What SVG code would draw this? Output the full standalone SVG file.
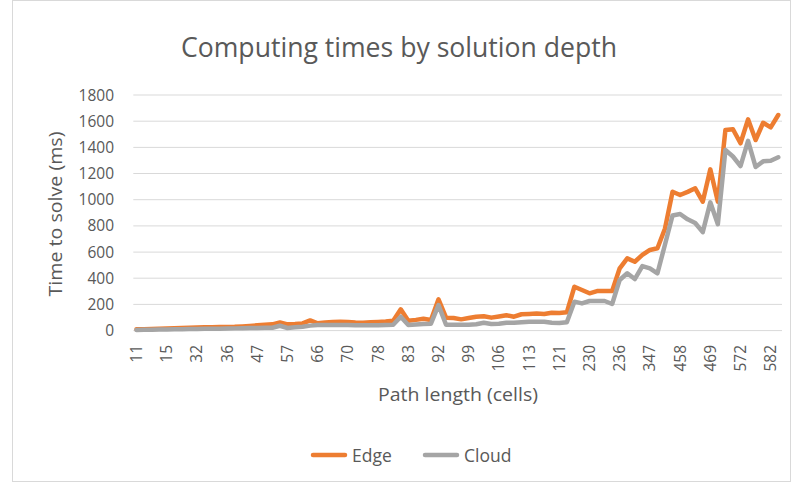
<svg xmlns="http://www.w3.org/2000/svg" width="793" height="483" viewBox="0 0 793 483">
  <style>
    .lbl { font-family: "Open Sans", "Liberation Sans", sans-serif; fill: #595959; }
    .tick { font-size: 15.5px; }
    .axis-title { font-size: 18px; }
    .grid { stroke: #D9D9D9; stroke-width: 1; fill: none; }
    .series { fill: none; stroke-width: 4.5; stroke-linejoin: round; stroke-linecap: round; }
    .edge { stroke: #ED7D31; }
    .cloud { stroke: #A5A5A5; }
  </style>

  <rect x="0" y="0" width="793" height="483" fill="#FFFFFF"/>
  <rect x="12.5" y="0.5" width="778" height="481" fill="none" stroke="#D9D9D9" stroke-width="1"/>

  <!-- title -->
  <text class="lbl" x="399" y="57" font-size="27" text-anchor="middle" textLength="436" lengthAdjust="spacingAndGlyphs">Computing times by solution depth</text>

  <!-- value gridlines, 0..1800 step 200 -->
  <g id="gridlines">
    <line class="grid" x1="133.3" y1="95.0" x2="782" y2="95.0"/>
    <line class="grid" x1="133.3" y1="121.2" x2="782" y2="121.2"/>
    <line class="grid" x1="133.3" y1="147.4" x2="782" y2="147.4"/>
    <line class="grid" x1="133.3" y1="173.5" x2="782" y2="173.5"/>
    <line class="grid" x1="133.3" y1="199.7" x2="782" y2="199.7"/>
    <line class="grid" x1="133.3" y1="225.9" x2="782" y2="225.9"/>
    <line class="grid" x1="133.3" y1="252.1" x2="782" y2="252.1"/>
    <line class="grid" x1="133.3" y1="278.2" x2="782" y2="278.2"/>
    <line class="grid" x1="133.3" y1="304.4" x2="782" y2="304.4"/>
    <line class="grid" x1="133.3" y1="330.6" x2="782" y2="330.6"/>
  </g>

  <!-- value axis labels -->
  <g id="value-axis" class="lbl tick" text-anchor="end">
    <text x="114" y="100.5">1800</text>
    <text x="114" y="126.7">1600</text>
    <text x="114" y="152.9">1400</text>
    <text x="114" y="179.0">1200</text>
    <text x="114" y="205.2">1000</text>
    <text x="114" y="231.4">800</text>
    <text x="114" y="257.6">600</text>
    <text x="114" y="283.7">400</text>
    <text x="114" y="309.9">200</text>
    <text x="114" y="336.1">0</text>
  </g>
  <text class="lbl axis-title" transform="translate(61.5,214) rotate(-90)" text-anchor="middle" textLength="165" lengthAdjust="spacingAndGlyphs">Time to solve (ms)</text>

  <!-- category axis labels, every 4th category -->
  <g id="category-axis" class="lbl tick" text-anchor="end">
    <text transform="translate(142.0,345) rotate(-90)">11</text>
    <text transform="translate(172.2,345) rotate(-90)">15</text>
    <text transform="translate(202.4,345) rotate(-90)">32</text>
    <text transform="translate(232.6,345) rotate(-90)">36</text>
    <text transform="translate(262.8,345) rotate(-90)">47</text>
    <text transform="translate(293.0,345) rotate(-90)">57</text>
    <text transform="translate(323.2,345) rotate(-90)">66</text>
    <text transform="translate(353.4,345) rotate(-90)">70</text>
    <text transform="translate(383.6,345) rotate(-90)">78</text>
    <text transform="translate(413.8,345) rotate(-90)">83</text>
    <text transform="translate(444.0,345) rotate(-90)">92</text>
    <text transform="translate(474.2,345) rotate(-90)">99</text>
    <text transform="translate(504.4,345) rotate(-90)">106</text>
    <text transform="translate(534.6,345) rotate(-90)">113</text>
    <text transform="translate(564.8,345) rotate(-90)">121</text>
    <text transform="translate(595.0,345) rotate(-90)">230</text>
    <text transform="translate(625.2,345) rotate(-90)">236</text>
    <text transform="translate(655.4,345) rotate(-90)">347</text>
    <text transform="translate(685.6,345) rotate(-90)">458</text>
    <text transform="translate(715.8,345) rotate(-90)">469</text>
    <text transform="translate(746.0,345) rotate(-90)">572</text>
    <text transform="translate(776.2,345) rotate(-90)">582</text>
  </g>
  <text class="lbl axis-title" x="458" y="401" text-anchor="middle" textLength="160" lengthAdjust="spacingAndGlyphs">Path length (cells)</text>

  <!-- data series: x = category index, y = milliseconds -->
  <g id="connectors" transform="translate(136.5,330.6) scale(7.55,-0.13089)">
    <polyline id="series-edge" class="series edge" vector-effect="non-scaling-stroke" points="0,10 1,11 2,12 3,14 4,16 5,18 6,20 7,22 8,24 9,25 10,26 11,27 12,28 13,29 14,32 15,36 16,40 17,44 18,48 19,62 20,48 21,50 22,55 23,78 24,56 25,62 26,66 27,68 28,66 29,62 30,60 31,63 32,66 33,70 34,76 35,163 36,76 37,82 38,90 39,81 40,239 41,99 42,96 43,86 44,96 45,106 46,109 47,99 48,108 49,117 50,106 51,125 52,127 53,130 54,127 55,137 56,135 57,140 58,335 59,310 60,285 61,302 62,302 63,302 64,476 65,552 66,526 67,578 68,616 69,629 70,780 71,1061 72,1036 73,1060 74,1087 75,985 76,1232 77,985 78,1532 79,1538 80,1431 81,1614 82,1456 83,1588 84,1553 85,1647"/>
    <polyline id="series-cloud" class="series cloud" vector-effect="non-scaling-stroke" points="0,5 1,6 2,7 3,8 4,9 5,10 6,11 7,12 8,13 9,14 10,15 11,15 12,16 13,17 14,18 15,19 16,20 17,21 18,22 19,37 20,20 21,25 22,30 23,38 24,42 25,42 26,42 27,42 28,42 29,40 30,40 31,40 32,40 33,42 34,45 35,106 36,43 37,46 38,50 39,53 40,195 41,45 42,44 43,44 44,45 45,48 46,60 47,50 48,52 49,60 50,60 51,64 52,67 53,68 54,68 55,60 56,58 57,64 58,221 59,208 60,226 61,226 62,226 63,203 64,387 65,438 66,394 67,493 68,476 69,438 70,658 71,880 72,891 73,850 74,822 75,752 76,980 77,813 78,1380 79,1330 80,1257 81,1450 82,1250 83,1293 84,1297 85,1324"/>
  </g>

  <!-- legend -->
  <g id="legend">
    <g id="legend-edge">
      <line x1="313" y1="455" x2="345" y2="455" class="series edge"/>
      <text class="lbl" x="352" y="461.5" font-size="17.5">Edge</text>
    </g>
    <g id="legend-cloud">
      <line x1="425" y1="455" x2="457" y2="455" class="series cloud"/>
      <text class="lbl" x="464" y="461.5" font-size="17.5">Cloud</text>
    </g>
  </g>
</svg>
